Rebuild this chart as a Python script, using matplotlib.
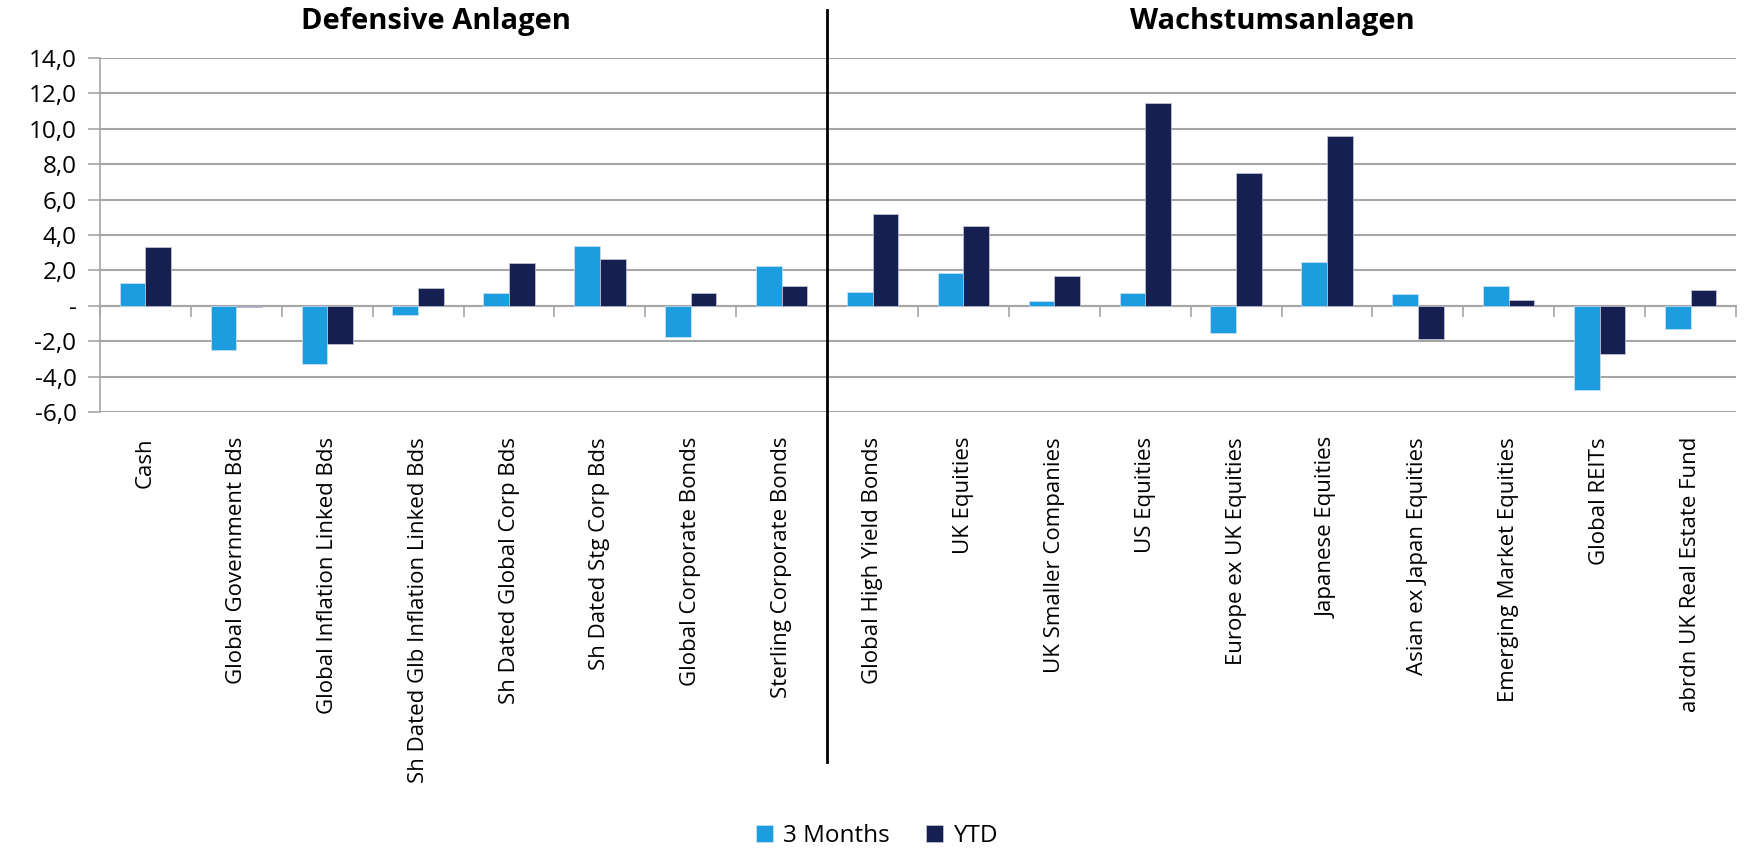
import matplotlib
matplotlib.use("Agg")
import matplotlib.pyplot as plt
from matplotlib.ticker import FuncFormatter, FixedLocator
import numpy as np

# Data
categories = ['Cash', 'Global Government Bds', 'Global Inflation Linked Bds',
              'Sh Dated Glb Inflation Linked Bds', 'Sh Dated Global Corp Bds',
              'Sh Dated Stg Corp Bds', 'Global Corporate Bonds', 'Sterling Corporate Bonds',
              'Global High Yield Bonds', 'UK Equities', 'UK Smaller Companies',
              'US Equities', 'Europe ex UK Equities', 'Japanese Equities',
              'Asian ex Japan Equities', 'Emerging Market Equities', 'Global REITs',
              'abrdn UK Real Estate Fund']
three_months = [1.26, -2.47, -3.26, -0.53, 0.73, 3.37, -1.75, 2.26,
                0.79, 1.88, 0.28, 0.73, -1.56, 2.50, 0.64, 1.11, -4.76, -1.32]
ytd = [3.33, -0.06, -2.18, 0.98, 2.39, 2.66, 0.70, 1.13,
       5.16, 4.52, 1.69, 11.43, 7.53, 9.60, -1.88, 0.34, -2.75, 0.89]
series_names = ['3 Months', 'YTD']
group_titles = ['Defensive Anlagen', 'Wachstumsanlagen']

c_light = '#1B9DE0'
c_dark = '#161F51'
grid_c = '#A6A6A6'

plt.rcParams['font.family'] = ['Open Sans', 'DejaVu Sans']

fig = plt.figure(figsize=(17.52, 8.48), dpi=100)
ax = fig.add_axes([100/1752, 1-412/848, (1736-100)/1752, (412-58)/848])

x = np.arange(len(categories))
w = 0.283
ax.bar(x - w/2, three_months, w, color=c_light, edgecolor='#cfe3f2', linewidth=0.5,
       label=series_names[0], zorder=3)
ax.bar(x + w/2, ytd, w, color=c_dark, edgecolor='#c9cbd8', linewidth=0.5,
       label=series_names[1], zorder=3)

ax.set_xlim(-0.5, len(categories) - 0.5)
ax.set_ylim(-6, 14)
ax.set_yticks(np.arange(-6, 15, 2))
ax.yaxis.set_major_formatter(FuncFormatter(
    lambda v, p: '-' if abs(v) < 1e-9 else f'{v:.1f}'.replace('.', ',')))
ax.grid(axis='y', color=grid_c, linewidth=1.5, zorder=0)
ax.tick_params(axis='y', length=9, width=1.2, color=grid_c, labelsize=17.5, pad=8)

ax.set_xticks(x)
ax.set_xticklabels(categories, rotation=90, fontsize=16)
ax.tick_params(axis='x', length=0, pad=18)

for s in ['top', 'right', 'bottom']:
    ax.spines[s].set_visible(False)
ax.spines['left'].set_color(grid_c)
ax.spines['left'].set_linewidth(1.2)

# zero line with category tick marks
sec = ax.secondary_xaxis(6/20)
sec.xaxis.set_major_locator(FixedLocator(np.arange(-0.5, len(categories), 1.0)))
sec.set_xticklabels([])
sec.tick_params(axis='x', length=8, width=1.2, color=grid_c, direction='out')
sec.spines['bottom'].set_color(grid_c)
sec.spines['bottom'].set_linewidth(1.5)

# divider between groups
ax.plot([7.5, 7.5], [1.1356, -0.989], color='black', linewidth=2,
        transform=ax.get_xaxis_transform(), clip_on=False, zorder=5)

fig.text(436/1752, 1-22/848, group_titles[0], ha='center', va='center',
         fontsize=21, fontweight='bold')
fig.text(1272/1752, 1-22/848, group_titles[1], ha='center', va='center',
         fontsize=21, fontweight='bold')

fig.legend(loc='center', bbox_to_anchor=(877/1752, 12/848), ncol=2, frameon=False,
           fontsize=17.5, handlelength=0.7, handleheight=0.7, handletextpad=0.4,
           columnspacing=1.5)

fig.savefig('out.png', dpi=100)
